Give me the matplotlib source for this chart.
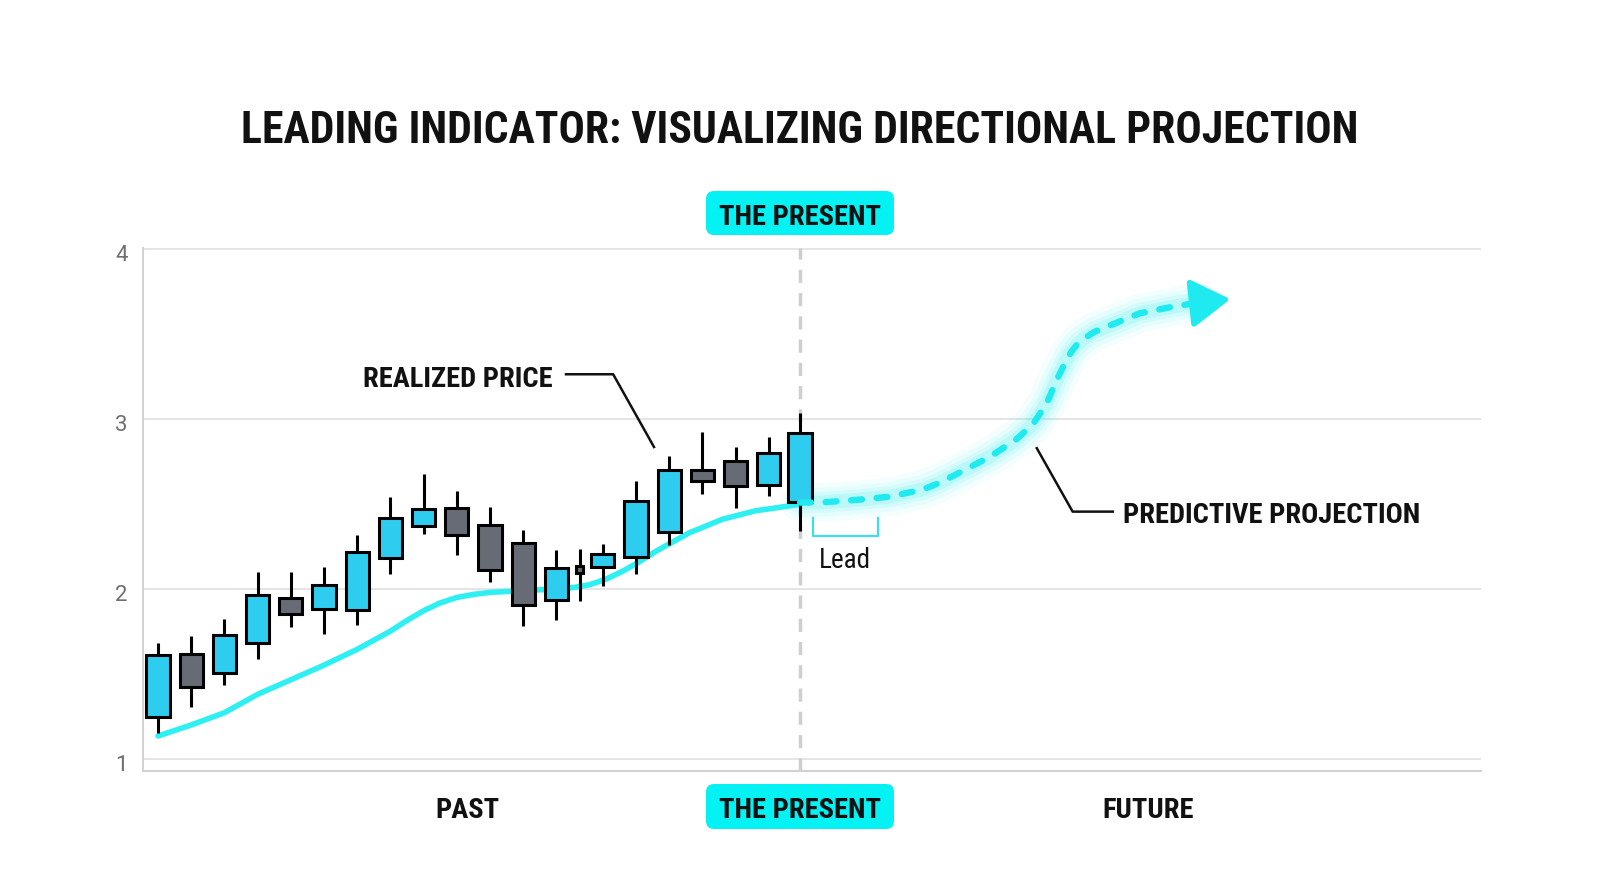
import matplotlib
matplotlib.use("Agg")
import matplotlib.pyplot as plt
from matplotlib.patches import FancyBboxPatch
import matplotlib.transforms as mtransforms

# ---------------- data ----------------
candle_x = [0, 1, 2, 3, 4, 5, 6, 7, 8, 9, 10, 11, 12, 12.7,
            13.4, 14.4, 15.4, 16.4, 17.4, 18.4, 19.34]
candle_open = [1.245, 1.618, 1.504, 1.684, 1.945, 1.884, 1.876, 2.184, 2.373, 2.476,
               2.378, 2.270, 1.933, 2.133, 2.129, 2.188, 2.333, 2.700, 2.753, 2.613, 2.509]
candle_close = [1.612, 1.425, 1.727, 1.965, 1.851, 2.025, 2.220, 2.420, 2.471, 2.319,
                2.114, 1.908, 2.123, 2.094, 2.207, 2.519, 2.700, 2.638, 2.603, 2.802, 2.916]
candle_high = [1.680, 1.724, 1.825, 2.098, 2.098, 2.131, 2.318, 2.543, 2.676, 2.579,
               2.481, 2.344, 2.231, 2.237, 2.266, 2.638, 2.785, 2.926, 2.834, 2.896, 3.033]
candle_low = [1.150, 1.308, 1.435, 1.588, 1.778, 1.735, 1.788, 2.088, 2.324, 2.200,
              2.041, 1.781, 1.820, 1.931, 2.020, 2.090, 2.256, 2.560, 2.476, 2.548, 2.342]
candle_width = [0.70] * 13 + [0.22] + [0.70] * 7

indicator_x = [0, 1, 2, 3, 4, 5, 6, 7, 7.5, 8, 8.5, 9, 9.5, 10, 11, 12, 12.5, 13, 13.5,
               14, 14.5, 15, 16, 17, 18, 19, 19.34]
indicator_y = [1.135, 1.200, 1.272, 1.380, 1.466, 1.552, 1.645, 1.752, 1.815, 1.872,
               1.918, 1.950, 1.968, 1.980, 1.990, 2.000, 2.008, 2.025, 2.058,
               2.105, 2.160, 2.222, 2.330, 2.410, 2.460, 2.488, 2.500]

proj_x = [19.34, 20.04, 21.04, 22.05, 23.05, 23.55, 24.06, 25.06, 25.86, 26.36, 26.77,
          27.07, 27.37, 27.52, 27.67, 27.87, 28.2, 28.58, 29.58, 30.58, 31.39]
proj_y = [2.508, 2.510, 2.524, 2.543, 2.586, 2.625, 2.676, 2.778, 2.881, 2.971, 3.092,
          3.229, 3.350, 3.398, 3.435, 3.470, 3.512, 3.543, 3.622, 3.661, 3.686]
arrow_tip = (32.3, 3.705)

present_x = 19.34
y_ticks = [1, 2, 3, 4]

title = "LEADING INDICATOR: VISUALIZING DIRECTIONAL PROJECTION"
bottom_labels = ["PAST", "THE PRESENT", "FUTURE"]

# ---------------- style ----------------
COND = ["Roboto Condensed", "DejaVu Sans"]
ST = "condensed"
CYAN = "#2EF0F2"
BOX_CYAN = "#05F2F5"
UP = "#2ECDF0"
DOWN = "#676B75"
INK = "#111111"
LBL = 20.5

fig = plt.figure(figsize=(16, 8.93), dpi=100)
W, H = 1600, 893

ax = fig.add_axes([142.7 / W, 1 - 770.7 / H, (1481 - 142.7) / W, (770.7 - 248.3) / H])
ax.set_xlim(-0.461, 39.85)
ax.set_ylim(0.931, 4.004)

for s in ["top", "right"]:
    ax.spines[s].set_visible(False)
for s in ["left", "bottom"]:
    ax.spines[s].set_color("#d2d2d2")
    ax.spines[s].set_linewidth(1.5)
ax.set_xticks([])
ax.set_yticks(y_ticks)
ax.tick_params(axis="y", length=0, pad=11, labelsize=16, labelcolor="#6e6e6e")
for lab in ax.get_yticklabels():
    lab.set_fontfamily(["Roboto", "DejaVu Sans"])
    lab.set_transform(lab.get_transform() + mtransforms.ScaledTranslation(0, -4 / 100, fig.dpi_scale_trans))
ax.grid(axis="y", color="#dedede", linewidth=1.1)
ax.set_axisbelow(True)

# present dashed line
ax.axvline(present_x, color="#cfcfcf", linewidth=2.5, dashes=(3.8, 2.9), zorder=1)

# indicator line
ax.plot(indicator_x, indicator_y, color=CYAN, linewidth=4.0, solid_capstyle="round",
        solid_joinstyle="round", zorder=4)

# candles
for x, o, c, h, l, w in zip(candle_x, candle_open, candle_close, candle_high, candle_low, candle_width):
    col = UP if c >= o else DOWN
    ax.vlines(x, l, h, color="black", linewidth=2.2, zorder=5)
    ax.bar(x, abs(c - o), bottom=min(o, c), width=w, color=col, edgecolor="black",
           linewidth=2.2, zorder=6)

# projection glow
for lw, a in [(28, 0.05), (21, 0.07), (15, 0.10), (10, 0.14)]:
    ax.plot(proj_x, proj_y, color=CYAN, linewidth=lw, alpha=a, solid_capstyle="round",
            solid_joinstyle="round", zorder=3)
ax.plot(proj_x, proj_y, color="#1FEAF0", linewidth=4.6, dashes=(1.7, 2.3), dash_capstyle="round",
        zorder=7)
ax.annotate("", xy=arrow_tip, xytext=(proj_x[-1], proj_y[-1]),
            arrowprops=dict(arrowstyle="-|>,head_length=1.05,head_width=0.65", color="#1FEAF0",
                            lw=4, mutation_scale=23, shrinkA=0, shrinkB=0), zorder=7)

# annotations
ax.text(11.9, 3.19, "REALIZED PRICE", ha="right", va="baseline", fontsize=LBL,
        fontweight="bold", family=COND, fontstretch=ST, color=INK)
ax.plot([12.29, 13.71, 14.94], [3.263, 3.263, 2.835], color=INK, linewidth=1.8, zorder=8)

ax.text(29.07, 2.386, "PREDICTIVE PROJECTION", ha="left", va="baseline", fontsize=LBL,
        fontweight="bold", family=COND, fontstretch=ST, color=INK)
ax.plot([26.47, 27.55, 28.76], [2.828, 2.455, 2.455], color=INK, linewidth=1.8, zorder=8)

ax.plot([19.72, 19.72, 21.69, 21.69], [2.418, 2.312, 2.312, 2.418], color="#40DDE8",
        linewidth=1.6, zorder=8)
ax.text(19.9, 2.122, "Lead", ha="left", va="baseline", fontsize=19.5, family=COND,
        fontstretch=ST, color=INK)

# ---------------- overlay (pixel coordinates) ----------------
ov = fig.add_axes([0, 0, 1, 1], facecolor="none")
ov.set_xlim(0, W)
ov.set_ylim(H, 0)
ov.axis("off")

ov.text(800, 142.7, title, ha="center", va="baseline", fontsize=31.5, fontweight="bold",
        family=COND, fontstretch=ST, color=INK)

for (y0, y1) in [(191, 235), (784, 829)]:
    ov.add_patch(FancyBboxPatch((706, y0), 188, y1 - y0,
                                boxstyle="round,pad=0,rounding_size=8",
                                facecolor=BOX_CYAN, edgecolor="none"))
for xx, yy, t in [(800, 225, bottom_labels[1]), (800, 818, bottom_labels[1]),
                  (467, 818, bottom_labels[0]), (1148, 818, bottom_labels[2])]:
    ov.text(xx, yy, t, ha="center", va="baseline", fontsize=LBL, fontweight="bold",
            family=COND, fontstretch=ST, color=INK)

fig.savefig("out.png", dpi=100, facecolor="white")
